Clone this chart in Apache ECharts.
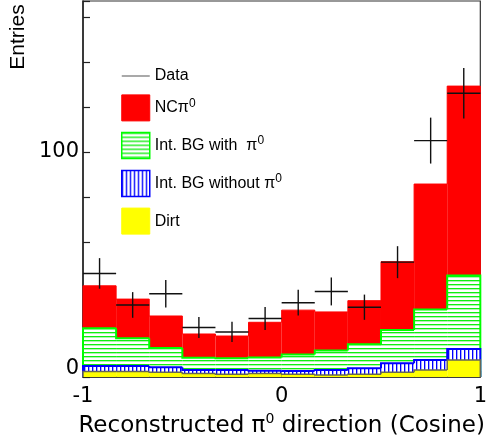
<!DOCTYPE html>
<html><head><meta charset="utf-8">
<script src="https://cdn.jsdelivr.net/npm/echarts@6/dist/echarts.min.js"></script>
<style>html,body{margin:0;padding:0;background:#fff}#c{width:490px;height:443px}</style>
</head><body><div id="c"></div>
<script>
// ---- data ----
const binEdges = [-1, -0.8333, -0.6667, -0.5, -0.3333, -0.1667, 0, 0.1667, 0.3333, 0.5, 0.6667, 0.8333, 1];
const dirt     = [2.4, 2.4, 2.1, 1.5, 1.2, 1.5, 1.2, 0.9, 1.2, 2.1, 3.1, 7.5];
const bgNoPi0  = [2.5, 2.5, 2.2, 1.6, 1.9, 1.3, 1.5, 2.2, 2.7, 4.0, 4.4, 4.9];
const bgPi0    = [16.8, 12.3, 8.6, 5.5, 5.2, 5.9, 7.3, 8.7, 10.6, 14.8, 22.5, 32.7];
const ncPi0    = [18.8, 17.4, 14.2, 10.5, 9.9, 15.6, 19.7, 17.1, 19.4, 30.3, 55.7, 84.1];
const dataVals = [46, 32, 37, 22, 20, 26, 33, 38, 31, 51, 105, 126];
const dataErr  = [6.8, 5.7, 6.1, 4.7, 4.5, 5.1, 5.7, 6.2, 5.6, 7.1, 10.2, 11.2];
const xTickLabels = [-1, 0, 1];
const yTickLabels = [0, 100];
const legendNames = ['Data', 'NCπ0', 'Int. BG with  π0', 'Int. BG without π0', 'Dirt'];

// ---- stacking (dirt at bottom) ----
const layers = [dirt, bgNoPi0, bgPi0, ncPi0];
const lower = [], upper = [];
layers.forEach((arr, k) => {
  lower[k] = arr.map((v, i) => k === 0 ? 0 : upper[k - 1][i]);
  upper[k] = arr.map((v, i) => lower[k][i] + v);
});
const nBins = binEdges.length - 1;

function makePattern(draw) {
  const c = document.createElement('canvas');
  c.width = 4; c.height = 4;
  const g = c.getContext('2d');
  g.fillStyle = '#ffffff'; g.fillRect(0, 0, 4, 4);
  draw(g);
  return { image: c, repeat: 'repeat' };
}
const greenHatch = makePattern(g => { g.fillStyle = '#10f010'; g.fillRect(0, 0, 4, 1); g.fillStyle = '#b0f4b0'; g.fillRect(0, 1, 4, 1); });
const blueHatch = makePattern(g => { g.fillStyle = '#0000ff'; g.fillRect(0, 0, 1, 4); g.fillStyle = '#a8a8ff'; g.fillRect(1, 0, 1, 4); });

function histSeries(name, k, fill, lineColor, lineWidth, z) {
  return {
    type: 'custom', name, z,
    data: Array.from({ length: nBins }, (_, i) => [i]),
    renderItem(params, api) {
      const i = api.value(0);
      const x0 = binEdges[i], x1 = binEdges[i + 1];
      const pLo = api.coord([x0, lower[k][i]]);
      const pHi = api.coord([x1, upper[k][i]]);
      const pPrev = api.coord([x0, i > 0 ? upper[k][i - 1] : 0]);
      const children = [{
        type: 'rect',
        shape: { x: pLo[0], y: pHi[1], width: pHi[0] - pLo[0], height: pLo[1] - pHi[1] },
        style: { fill: fill }
      }];
      const pts = [[pLo[0], pPrev[1]], [pLo[0], pHi[1]], [pHi[0], pHi[1]]];
      if (i === nBins - 1) pts.push([pHi[0], api.coord([x1, 0])[1]]);
      children.push({ type: 'polyline', shape: { points: pts }, style: { stroke: lineColor, lineWidth, fill: null } });
      return { type: 'group', children };
    }
  };
}

const FONT = 'DejaVu Sans';
const chart = echarts.init(document.getElementById('c'));
chart.setOption({
  animation: false,
  backgroundColor: '#fff',
  grid: { left: 83, right: 9, top: 1, bottom: 66, show: true, borderColor: '#333', borderWidth: 1.2 },
  xAxis: {
    type: 'value', min: -1, max: 1, interval: 0.2,
    axisLine: { show: true, onZero: false, lineStyle: { color: '#222', width: 1.5 } },
    axisTick: { show: true, inside: true, length: 6, lineStyle: { color: '#222', width: 1.2 } },
    splitLine: { show: false },
    axisLabel: {
      margin: 9, color: '#000', fontFamily: FONT, fontSize: 21,
      formatter: v => xTickLabels.some(t => Math.abs(t - v) < 1e-6) ? String(Math.round(v)) : ''
    },
    name: 'Reconstructed π{sup|0} direction (Cosine)',
    nameLocation: 'middle', nameGap: 33,
    nameTextStyle: { color: '#000', fontFamily: FONT, fontSize: 23,
      rich: { sup: { fontFamily: FONT, fontSize: 14, padding: [0, 0, 14, 0], color: '#000' } } }
  },
  yAxis: {
    type: 'value', min: 0, max: 167, interval: 20,
    axisLine: { show: true, onZero: false, lineStyle: { color: '#222', width: 1.5 } },
    axisTick: { show: true, inside: true, length: 7, lineStyle: { color: '#222', width: 1.2 } },
    splitLine: { show: false },
    axisLabel: {
      margin: 4, color: '#000', fontFamily: FONT, fontSize: 21,
      formatter: v => v === yTickLabels[0] ? '{z|0}' : (v === yTickLabels[1] ? String(v) : ''),
      rich: { z: { fontFamily: FONT, fontSize: 21, color: '#000', padding: [0, 0, 17, 0] } }
    }
  },
  legend: {
    orient: 'vertical', left: 121, top: 68, padding: 0, itemWidth: 28, itemHeight: 26, itemGap: 10.4,
    selectedMode: false,
    textStyle: { color: '#000', fontFamily: 'Liberation Sans', fontSize: 16,
      rich: { sup: { fontFamily: 'Liberation Sans', fontSize: 12, padding: [0, 0, 9, 0], color: '#000' } } },
    formatter: n => n.replace(/0$/, '{sup|0}'),
    data: [
      { name: legendNames[0], icon: 'path://M0,0L40,0L40,1.6L0,1.6Z', itemStyle: { color: '#666' } },
      { name: legendNames[1], icon: 'rect', itemStyle: { color: '#ff0000', borderColor: '#ff0000', borderWidth: 1 } },
      { name: legendNames[2], icon: 'rect', itemStyle: { color: greenHatch, borderColor: '#00ff00', borderWidth: 1.5 } },
      { name: legendNames[3], icon: 'rect', itemStyle: { color: blueHatch, borderColor: '#0000ff', borderWidth: 1.5 } },
      { name: legendNames[4], icon: 'rect', itemStyle: { color: '#ffff00', borderColor: '#ffff00', borderWidth: 1 } }
    ]
  },
  graphic: [{
    type: 'text', x: 18, y: 37, rotation: Math.PI / 2,
    style: { text: 'Entries', fontFamily: 'Liberation Sans', fontSize: 21, fill: '#000', align: 'center', verticalAlign: 'middle' }
  }],
  series: [
    histSeries(legendNames[1], 3, '#ff0000', '#ff0000', 1, 2),
    histSeries(legendNames[2], 2, greenHatch, '#00ff00', 2, 3),
    histSeries(legendNames[3], 1, blueHatch, '#0000ff', 2, 4),
    histSeries(legendNames[4], 0, '#ffff00', '#666655', 1.5, 5),
    {
      type: 'custom', name: legendNames[0], z: 6,
      data: dataVals.map((v, i) => [i, v, dataErr[i]]),
      renderItem(params, api) {
        const i = api.value(0), v = api.value(1), e = api.value(2);
        const xc = (binEdges[i] + binEdges[i + 1]) / 2;
        const pl = api.coord([binEdges[i], v]), pr = api.coord([binEdges[i + 1], v]);
        const pt = api.coord([xc, v + e]), pb = api.coord([xc, v - e]);
        const st = { stroke: '#111', lineWidth: 1.4 };
        return { type: 'group', children: [
          { type: 'line', shape: { x1: pl[0], y1: pl[1], x2: pr[0], y2: pr[1] }, style: st },
          { type: 'line', shape: { x1: pt[0], y1: pt[1], x2: pb[0], y2: pb[1] }, style: st }
        ] };
      }
    }
  ]
});
</script></body></html>
